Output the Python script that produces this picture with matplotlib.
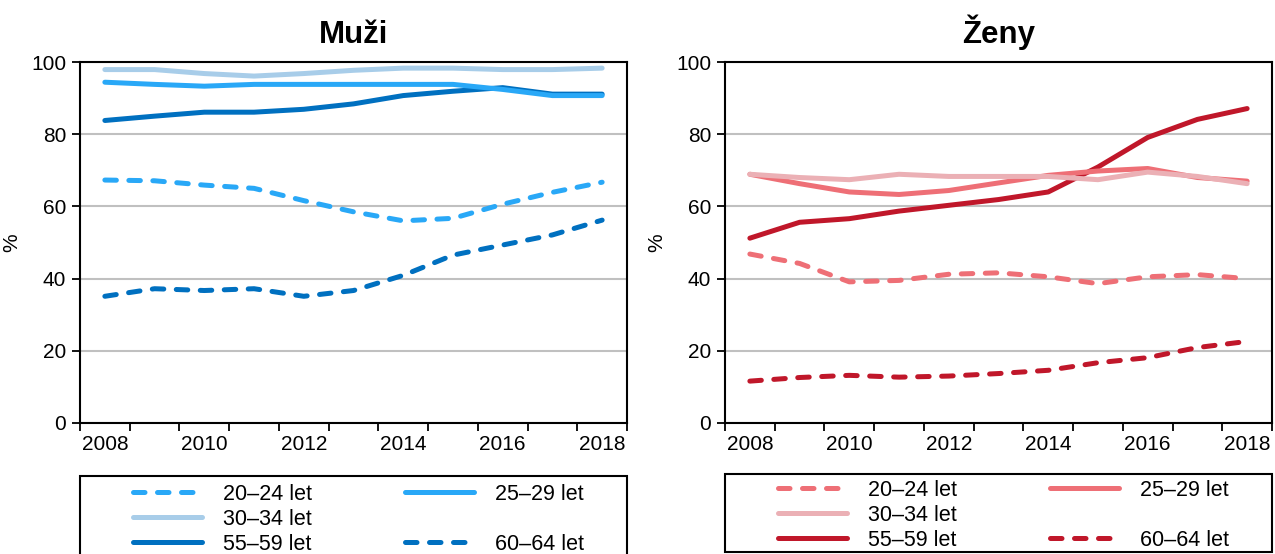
import matplotlib
matplotlib.use("Agg")
import matplotlib.pyplot as plt
from matplotlib.lines import Line2D
from matplotlib.patches import Rectangle
from matplotlib.ticker import MultipleLocator

plt.rcParams['font.family'] = ['Liberation Sans', 'DejaVu Sans']

roky = list(range(2008, 2019))
skupiny = ["20–24 let", "25–29 let", "30–34 let", "55–59 let", "60–64 let"]

muzi_20_24 = [67.3, 67.1, 65.9, 65.0, 61.6, 58.5, 56.0, 56.7, 60.6, 63.9, 66.7]
muzi_25_29 = [94.4, 93.8, 93.3, 93.8, 93.8, 93.8, 93.8, 93.8, 92.4, 90.7, 90.7]
muzi_30_34 = [97.9, 97.9, 96.8, 96.1, 96.8, 97.7, 98.3, 98.3, 97.9, 97.9, 98.3]
muzi_55_59 = [83.8, 85.0, 86.1, 86.1, 86.9, 88.4, 90.7, 91.9, 92.9, 91.1, 91.1]
muzi_60_64 = [35.1, 37.2, 36.7, 37.2, 35.1, 36.7, 40.9, 46.5, 49.3, 52.1, 56.2]

zeny_20_24 = [46.8, 44.2, 39.1, 39.5, 41.2, 41.6, 40.5, 38.6, 40.5, 41.1, 40.0]
zeny_25_29 = [68.9, 66.3, 64.0, 63.3, 64.4, 66.5, 68.6, 69.8, 70.5, 68.0, 67.0]
zeny_30_34 = [68.9, 68.0, 67.4, 68.9, 68.3, 68.3, 68.3, 67.4, 69.5, 68.3, 66.3]
zeny_55_59 = [51.2, 55.6, 56.6, 58.7, 60.3, 61.9, 64.0, 70.9, 79.1, 84.1, 87.1]
zeny_60_64 = [11.6, 12.6, 13.2, 12.7, 13.0, 13.7, 14.6, 16.7, 18.1, 20.9, 22.6]

barvy_muzi = ["#29a8f7", "#29a8f7", "#a8cde9", "#0070c0", "#0070c0"]
barvy_zeny = ["#ee6f76", "#ee6f76", "#ebb0b5", "#c0172a", "#c0172a"]
styly = ["dash", "solid", "solid", "solid", "dash"]

LW = 3.6
DASH = (2.3, 2.5)
FS = 15.5


def styl_cary(styl):
    if styl == "dash":
        return dict(linestyle=(0, DASH), dash_capstyle="round")
    return dict(linestyle="-", solid_capstyle="round")


fig = plt.figure(figsize=(12.75, 5.54), dpi=100)
W, H = 1275, 554


def osa(x0, x1, y0, y1):
    return fig.add_axes([x0 / W, 1 - y1 / H, (x1 - x0) / W, (y1 - y0) / H])


panely = [
    ("Muži", osa(80, 627, 62, 423), [muzi_20_24, muzi_25_29, muzi_30_34, muzi_55_59, muzi_60_64],
     barvy_muzi, (476, 600), 484),
    ("Ženy", osa(725, 1272, 62, 423), [zeny_20_24, zeny_25_29, zeny_30_34, zeny_55_59, zeny_60_64],
     barvy_zeny, (474, 552), 480),
]

poradi_kresleni = [4, 0, 3, 1, 2]

for nazev, ax, serie, barvy, ramecek, leg_y in panely:
    for i in poradi_kresleni:
        ax.plot(roky, serie[i], color=barvy[i], lw=LW, **styl_cary(styly[i]))
    ax.set_xlim(2007.5, 2018.5)
    ax.set_ylim(0, 100)
    ax.set_xticks(roky[::2])
    ax.set_xticks([r - 0.5 for r in roky] + [2018.5], minor=True)
    ax.tick_params(axis="x", which="major", length=0, pad=9, labelsize=15)
    ax.tick_params(axis="x", which="minor", length=6, width=1.3, direction="out")
    ax.yaxis.set_major_locator(MultipleLocator(20))
    ax.tick_params(axis="y", length=6, width=1.3, direction="out", labelsize=15, pad=4)
    ax.grid(axis="y", color="#c0c0c0", lw=1.5)
    ax.set_axisbelow(True)
    for s in ax.spines.values():
        s.set_linewidth(1.5)
        s.set_color("black")
    ax.set_title(nazev, fontsize=22.5, fontweight="bold", pad=14)
    ax.set_ylabel("%", fontsize=15)
    ax.yaxis.set_label_coords(-0.107, 0.5)

    # legenda
    h = [Line2D([], [], color=barvy[i], lw=LW, **styl_cary(styly[i])) for i in range(5)]
    prazdna = Line2D([], [], color="none")
    handles = [h[0], h[2], h[3], h[1], prazdna, h[4]]
    labels = [skupiny[0], skupiny[2], skupiny[3], skupiny[1], "", skupiny[4]]
    pos = ax.get_position()
    top, bottom = ramecek
    fig.patches.append(Rectangle((pos.x0, 1 - bottom / H), pos.width, (bottom - top) / H,
                                 transform=fig.transFigure, fill=False, edgecolor="black", lw=1.5))
    fig.legend(handles, labels, ncol=2, frameon=False, fontsize=FS,
               loc="upper left", bbox_to_anchor=(pos.x0 + 53 / W, 1 - leg_y / H),
               borderpad=0, borderaxespad=0, handlelength=3.2, handletextpad=1.0,
               columnspacing=4.3, labelspacing=0.18)

fig.savefig("out.png", dpi=100)
